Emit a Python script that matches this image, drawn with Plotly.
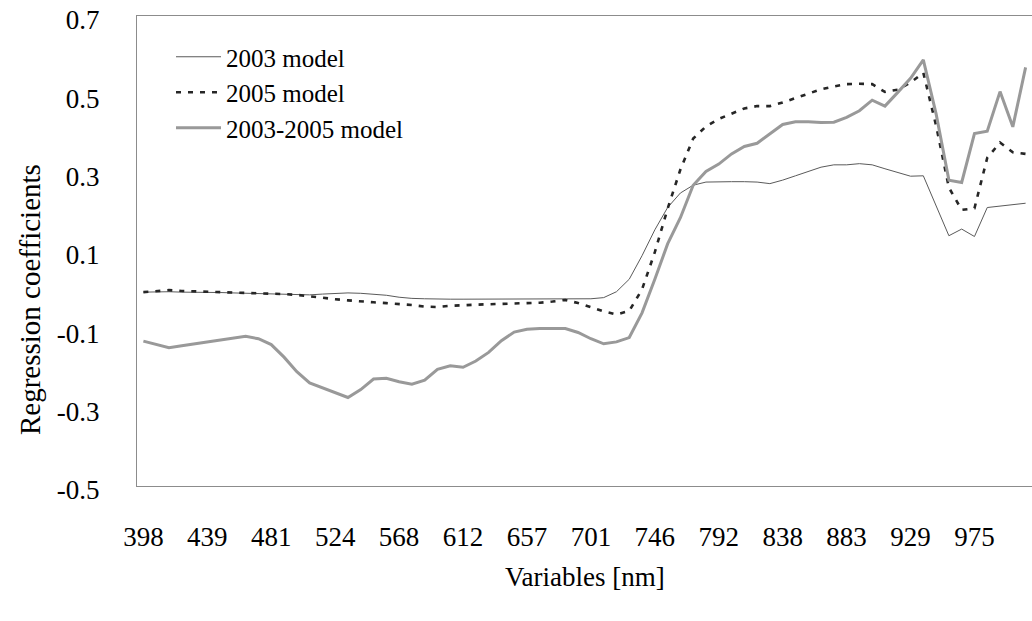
import plotly.graph_objects as go

# 70 spectral bands (category axis); every 5th band is labelled
band_index = list(range(70))
tick_bands = [0, 5, 10, 15, 20, 25, 30, 35, 40, 45, 50, 55, 60, 65]
tick_labels = ["398", "439", "481", "524", "568", "612", "657",
               "701", "746", "792", "838", "883", "929", "975"]

model_2003 = [
    -0.005, -0.004, -0.004, -0.005, -0.005, -0.006, -0.006, -0.007, -0.008, -0.008,
    -0.009, -0.010, -0.011, -0.012, -0.010, -0.008, -0.007, -0.008, -0.010, -0.013,
    -0.018, -0.021, -0.022, -0.023, -0.023, -0.023, -0.023, -0.023, -0.023, -0.023,
    -0.023, -0.023, -0.023, -0.023, -0.023, -0.022, -0.019, -0.004, 0.028, 0.088,
    0.154, 0.211, 0.248, 0.268, 0.276, 0.277, 0.277, 0.277, 0.276, 0.272,
    0.281, 0.292, 0.303, 0.314, 0.320, 0.320, 0.323, 0.320, 0.310, 0.300,
    0.291, 0.292, 0.215, 0.139, 0.156, 0.137, 0.211, 0.215, 0.218, 0.222,
]

model_2005 = [
    -0.005, -0.002, 0.000, -0.002, -0.003, -0.004, -0.005, -0.005, -0.006, -0.007,
    -0.008, -0.010, -0.012, -0.016, -0.020, -0.023, -0.026, -0.029, -0.031, -0.033,
    -0.035, -0.038, -0.042, -0.043, -0.040, -0.038, -0.037, -0.036, -0.035, -0.034,
    -0.033, -0.032, -0.029, -0.025, -0.033, -0.044, -0.054, -0.062, -0.053, 0.002,
    0.097, 0.208, 0.308, 0.387, 0.418, 0.437, 0.451, 0.464, 0.470, 0.470,
    0.479, 0.491, 0.503, 0.513, 0.520, 0.526, 0.527, 0.526, 0.506, 0.512,
    0.530, 0.555, 0.420, 0.262, 0.205, 0.209, 0.338, 0.377, 0.352, 0.348,
]

model_2003_2005 = [
    -0.130, -0.139, -0.147, -0.142, -0.137, -0.133, -0.129, -0.124, -0.118, -0.124,
    -0.139, -0.171, -0.208, -0.237, -0.249, -0.263, -0.274, -0.254, -0.227, -0.225,
    -0.234, -0.240, -0.230, -0.202, -0.193, -0.197, -0.181, -0.159, -0.129, -0.107,
    -0.100, -0.098, -0.098, -0.098, -0.108, -0.124, -0.137, -0.132, -0.121, -0.058,
    0.028, 0.118, 0.185, 0.268, 0.303, 0.322, 0.348, 0.367, 0.375, 0.399,
    0.423, 0.430, 0.430, 0.428, 0.429, 0.441, 0.458, 0.485, 0.470, 0.505,
    0.541, 0.588, 0.450, 0.281, 0.275, 0.400, 0.406, 0.507, 0.417, 0.569,
]

y_ticks = [-0.5, -0.3, -0.1, 0.1, 0.3, 0.5, 0.7]
y_tick_labels = ["-0.5", "-0.3", "-0.1", "0.1", "0.3", "0.5", "0.7"]

FONT = "Liberation Serif, Times New Roman, serif"
FS = 27

PLOT_L, PLOT_T, PLOT_R, PLOT_B = 137, 16, 1032, 486
FIG_W, FIG_H = 1032, 621
plot_w = PLOT_R - PLOT_L
plot_h = PLOT_B - PLOT_T

fig = go.Figure()
fig.add_trace(go.Scatter(x=band_index, y=model_2003, mode="lines", name="2003 model",
                         line=dict(color="#5a5a5a", width=1)))
fig.add_trace(go.Scatter(x=band_index, y=model_2005, mode="lines", name="2005 model",
                         line=dict(color="#262626", width=2.6, dash="5px,7px")))
fig.add_trace(go.Scatter(x=band_index, y=model_2003_2005, mode="lines", name="2003-2005 model",
                         line=dict(color="#999999", width=3)))

fig.update_layout(
    width=FIG_W, height=FIG_H,
    margin=dict(l=PLOT_L, r=FIG_W - PLOT_R, t=PLOT_T, b=FIG_H - PLOT_B,
                pad=0, autoexpand=False),
    paper_bgcolor="white", plot_bgcolor="white",
    font=dict(family=FONT, size=FS, color="black"),
    showlegend=True,
    legend=dict(x=(171 - PLOT_L) / plot_w, y=1 - (34 - PLOT_T) / plot_h,
                xanchor="left", yanchor="top",
                bgcolor="rgba(0,0,0,0)", font=dict(family=FONT, size=25),
                tracegroupgap=0, itemwidth=45),
    xaxis=dict(range=[-0.5, 69.5], tickmode="array", tickvals=tick_bands, ticktext=tick_labels,
               showgrid=False, zeroline=False, showline=True, linecolor="#8c8c8c", linewidth=1,
               mirror=True, ticks="", ticklabelstandoff=27, ticklabeloverflow="allow",
               tickfont=dict(family=FONT, size=FS)),
    yaxis=dict(range=[-0.5, 0.7], tickmode="array", tickvals=y_ticks, ticktext=y_tick_labels,
               showgrid=False, zeroline=False, showline=True, linecolor="#8c8c8c", linewidth=1,
               ticks="", ticklabelstandoff=31, ticklabeloverflow="allow", ticklabelshift=4,
               tickfont=dict(family=FONT, size=FS)),
    annotations=[
        dict(text="Regression coefficients", xref="paper", yref="paper",
             x=(30 - PLOT_L) / plot_w, y=(PLOT_B - 300) / plot_h, xanchor="center", yanchor="middle",
             textangle=-90, showarrow=False, font=dict(family=FONT, size=29)),
        dict(text="Variables [nm]", xref="paper", yref="paper",
             x=(585 - PLOT_L) / plot_w, y=(PLOT_B - 577) / plot_h, xanchor="center", yanchor="middle",
             showarrow=False, font=dict(family=FONT, size=FS)),
    ],
)

# remove the browser's default 8px body margin so the figure sits at the page origin
fig.write_html("out.html", config={"displayModeBar": False},
               post_script="document.body.style.margin='0px';")
